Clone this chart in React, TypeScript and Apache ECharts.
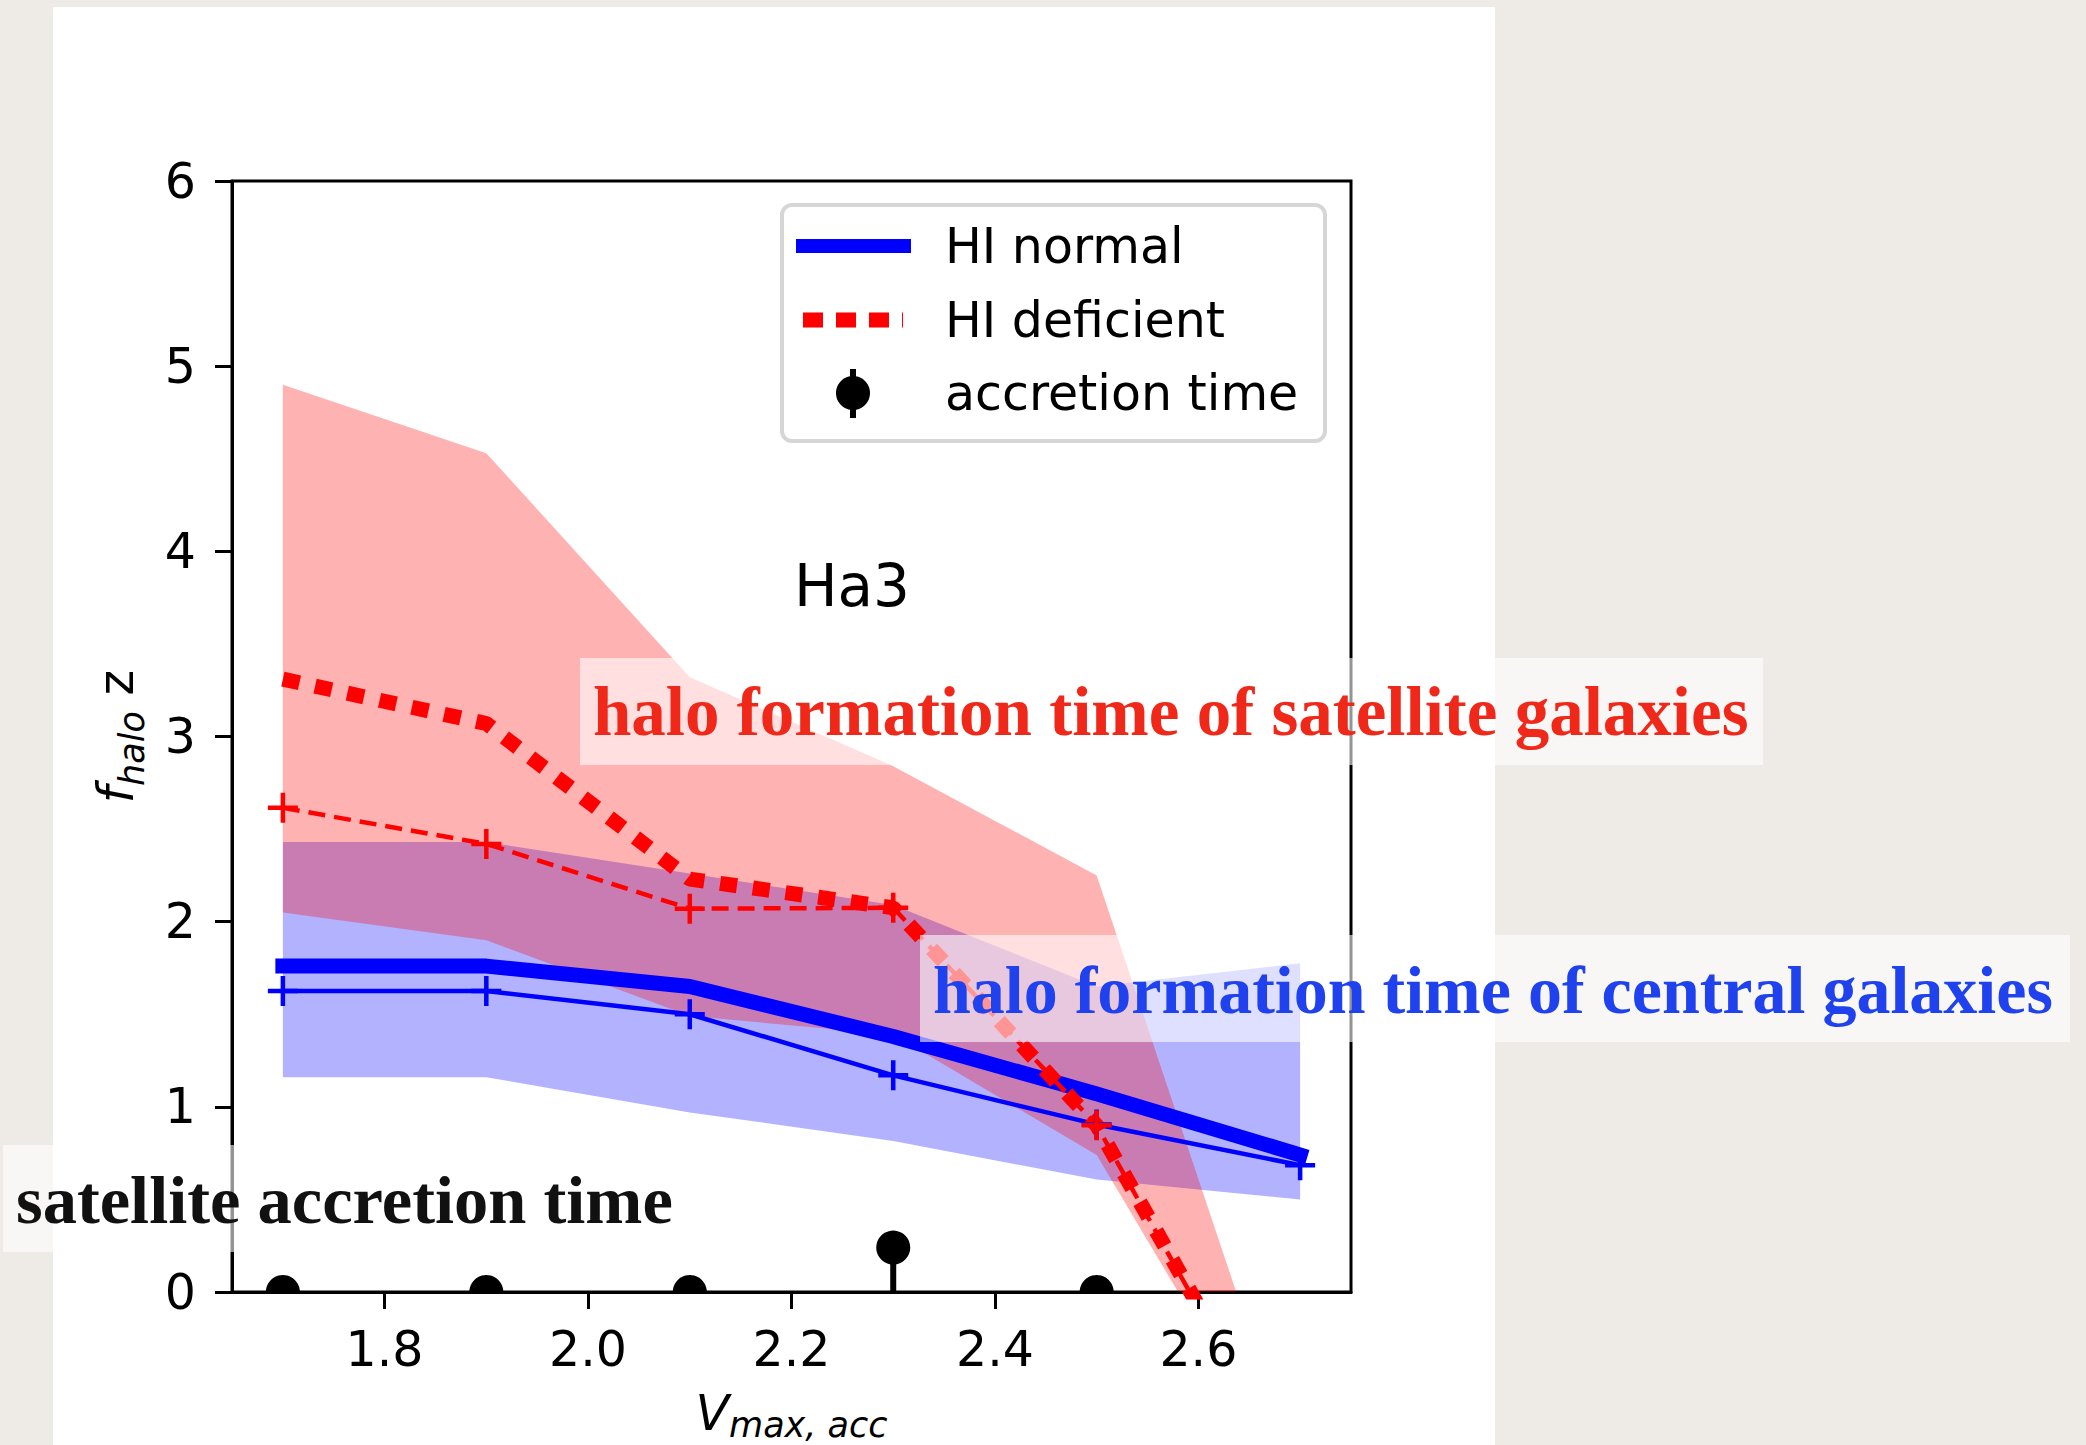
import React, { useEffect, useRef } from "react";
import * as echarts from "echarts";

// ---------------- data ----------------
const X_VALUES = [1.7, 1.9, 2.1, 2.3, 2.5, 2.7];

// HI normal (blue)
const NORMAL_MEAN = [1.76, 1.76, 1.65, 1.38, 1.07, 0.74];
const NORMAL_MEDIAN = [1.625, 1.625, 1.5, 1.17, 0.905, 0.685];
const NORMAL_LOW = [1.16, 1.16, 0.97, 0.815, 0.607, 0.5];
const NORMAL_HIGH = [2.43, 2.43, 2.26, 2.09, 1.65, 1.775];

// HI deficient (red)
const DEFICIENT_MEAN = [3.31, 3.07, 2.23, 2.075, 0.9, -1.05];
const DEFICIENT_MEDIAN = [2.615, 2.42, 2.07, 2.075, 0.9, -1.07];
const DEFICIENT_LOW = [2.05, 1.9, 1.49, 1.39, 0.74, -1.11];
const DEFICIENT_HIGH = [4.9, 4.53, 3.32, 2.84, 2.25, -1.03];

// accretion time
const ACC_X = [1.7, 1.9, 2.1, 2.3, 2.5];
const ACC_Y = [0, 0, 0, 0.24, 0];
const ACC_ERR_LOW = [0, 0, 0, 0.24, 0];

const X_TICKS = [1.8, 2.0, 2.2, 2.4, 2.6];
const Y_MIN = 0;
const Y_MAX = 6;
const X_MIN = 1.65;
const X_MAX = 2.75;

const LEGEND_LABELS = ["HI normal", "HI deficient", "accretion time"];
const PANEL_LABEL = "Ha3";
const NOTE_SAT = "halo formation time of satellite galaxies";
const NOTE_CEN = "halo formation time of central galaxies";
const NOTE_ACC = "satellite accretion time";

// ---------------- styling ----------------
const SANS = '"DejaVu Sans"';
const SERIF = '"Liberation Serif"';
const PLUS =
  "path://M12.75,0H17.25V12.75H30V17.25H17.25V30H12.75V17.25H0V12.75H12.75Z";

function pairs(ys: number[]) {
  return X_VALUES.map((x, i) => [x, ys[i]]);
}

function bandSeries(low: number[], high: number[], color: string) {
  return {
    type: "custom",
    clip: true,
    silent: true,
    data: [[X_VALUES[0], low[0]]],
    renderItem: (_params: any, api: any) => {
      const pts: number[][] = [];
      X_VALUES.forEach((x, i) => pts.push(api.coord([x, high[i]])));
      for (let i = X_VALUES.length - 1; i >= 0; i--) {
        pts.push(api.coord([X_VALUES[i], low[i]]));
      }
      return {
        type: "polygon",
        shape: { points: pts },
        style: { fill: color, stroke: null },
      };
    },
  };
}

function txt(
  text: string,
  x: number,
  y: number,
  font: string,
  fill: string,
  z = 60,
  align = "left"
) {
  return {
    type: "text",
    x,
    y,
    z,
    style: {
      text,
      font,
      fill,
      textAlign: align,
      align,
      textVerticalAlign: "middle",
      verticalAlign: "middle",
    },
  };
}

export default function App() {
  const ref = useRef<HTMLDivElement>(null);

  useEffect(() => {
    document.body.style.margin = "0";
    if (!ref.current) return;
    const chart = echarts.init(ref.current, undefined, { renderer: "svg" });

    const annotationBox = (x: number, y: number, w: number, h: number) => ({
      type: "rect",
      z: 100,
      shape: { x, y, width: w, height: h },
      style: { fill: "rgba(255,255,255,0.58)" },
    });

    const option: any = {
      animation: false,
      backgroundColor: "#eeebe6",
      grid: {
        left: 232,
        top: 181,
        width: 1119,
        height: 1111,
        outerBoundsMode: "none",
        containLabel: false,
        show: true,
        borderColor: "#000",
        borderWidth: 3,
        backgroundColor: "#ffffff",
      },
      xAxis: {
        type: "value",
        min: X_MIN,
        max: X_MAX,
        splitLine: { show: false },
        axisLine: { show: true, lineStyle: { color: "#000", width: 3 } },
        axisTick: {
          show: true,
          length: 17,
          lineStyle: { color: "#000", width: 3 },
          customValues: X_TICKS,
        },
        axisLabel: {
          customValues: X_TICKS,
          formatter: (v: number) => v.toFixed(1),
          fontSize: 49,
          fontFamily: SANS,
          color: "#000",
          margin: 33,
        },
        name: "{v|V}{s|max, acc}",
        nameLocation: "middle",
        nameGap: 97,
        nameTextStyle: {
          rich: {
            v: {
              fontSize: 49,
              lineHeight: 50,
              fontStyle: "italic",
              fontFamily: SANS,
              color: "#000",
              verticalAlign: "top",
            },
            s: {
              fontSize: 35,
              lineHeight: 35,
              fontStyle: "italic",
              fontFamily: SANS,
              color: "#000",
              verticalAlign: "top",
              padding: [18, 0, 0, 0],
            },
          },
        },
      },
      yAxis: {
        type: "value",
        min: Y_MIN,
        max: Y_MAX,
        interval: 1,
        splitLine: { show: false },
        axisLine: { show: true, lineStyle: { color: "#000", width: 3 } },
        axisTick: {
          show: true,
          length: 17,
          lineStyle: { color: "#000", width: 3 },
        },
        axisLabel: {
          fontSize: 49,
          fontFamily: SANS,
          color: "#000",
          margin: 36,
        },
        name: "{f|f}{s|halo}{n| z}",
        nameLocation: "middle",
        nameRotate: 90,
        nameGap: 84,
        nameTextStyle: {
          rich: {
            f: {
              fontSize: 49,
              lineHeight: 56,
              fontStyle: "italic",
              fontFamily: SANS,
              color: "#000",
              verticalAlign: "top",
            },
            s: {
              fontSize: 35,
              lineHeight: 35,
              fontStyle: "italic",
              fontFamily: SANS,
              color: "#000",
              verticalAlign: "top",
              padding: [22, 0, 0, 0],
            },
            n: {
              fontSize: 49,
              lineHeight: 56,
              fontFamily: SANS,
              color: "#000",
              verticalAlign: "top",
            },
          },
        },
      },
      series: [
        bandSeries(NORMAL_LOW, NORMAL_HIGH, "rgba(0,0,255,0.3)"),
        bandSeries(DEFICIENT_LOW, DEFICIENT_HIGH, "rgba(255,0,0,0.3)"),
        {
          type: "line",
          name: LEGEND_LABELS[0],
          data: pairs(NORMAL_MEAN),
          symbol: "none",
          clip: true,
          lineStyle: { color: "#0000ff", width: 15, cap: "square", join: "round" },
        },
        {
          type: "line",
          name: "HI normal median",
          data: pairs(NORMAL_MEDIAN),
          symbol: PLUS,
          symbolSize: 30,
          showSymbol: true,
          showAllSymbol: true,
          clip: true,
          itemStyle: { color: "#0000ff", borderWidth: 0 },
          lineStyle: { color: "#0000ff", width: 4.5, join: "round" },
        },
        {
          type: "line",
          name: LEGEND_LABELS[1],
          data: pairs(DEFICIENT_MEAN),
          symbol: "none",
          clip: true,
          lineStyle: { color: "#ff0000", width: 15, type: [17, 16], cap: "butt" },
        },
        {
          type: "line",
          name: "HI deficient median",
          data: pairs(DEFICIENT_MEDIAN),
          symbol: PLUS,
          symbolSize: 30,
          showSymbol: true,
          showAllSymbol: true,
          clip: true,
          itemStyle: { color: "#ff0000", borderWidth: 0 },
          lineStyle: { color: "#ff0000", width: 4.5, type: [17, 9] },
        },
        {
          type: "custom",
          name: LEGEND_LABELS[2],
          clip: true,
          data: ACC_X.map((x, i) => [x, ACC_Y[i], ACC_ERR_LOW[i]]),
          renderItem: (_params: any, api: any) => {
            const x = api.value(0);
            const y = api.value(1);
            const e = api.value(2);
            const c = api.coord([x, y]);
            const children: any[] = [];
            if (e > 0) {
              const b = api.coord([x, y - e]);
              children.push({
                type: "line",
                shape: { x1: c[0], y1: c[1], x2: b[0], y2: b[1] },
                style: { stroke: "#000", lineWidth: 6 },
              });
            }
            children.push({
              type: "circle",
              shape: { cx: c[0], cy: c[1], r: 17 },
              style: { fill: "#000" },
            });
            return { type: "group", children };
          },
        },
      ],
      graphic: {
        elements: [
          // white slide panel
          {
            type: "rect",
            z: -10,
            shape: { x: 53, y: 7, width: 1442, height: 1445 },
            style: { fill: "#ffffff" },
          },
          // panel label
          txt(PANEL_LABEL, 852, 586, `58px ${SANS}`, "#000", 40, "center"),
          // legend
          {
            type: "rect",
            z: 50,
            shape: { x: 782, y: 205, width: 543, height: 236, r: 10 },
            style: { fill: "rgba(255,255,255,0.8)", stroke: "#d6d6d6", lineWidth: 4 },
          },
          {
            type: "line",
            z: 51,
            shape: { x1: 796, y1: 246, x2: 911, y2: 246 },
            style: { stroke: "#0000ff", lineWidth: 14 },
          },
          txt(LEGEND_LABELS[0], 945, 246, `49px ${SANS}`, "#000", 51),
          {
            type: "line",
            z: 51,
            shape: { x1: 803, y1: 320, x2: 903, y2: 320 },
            style: { stroke: "#ff0000", lineWidth: 15, lineDash: [20, 13] },
          },
          txt(LEGEND_LABELS[1], 945, 320, `49px ${SANS}`, "#000", 51),
          {
            type: "line",
            z: 51,
            shape: { x1: 853, y1: 369, x2: 853, y2: 418 },
            style: { stroke: "#000", lineWidth: 6 },
          },
          {
            type: "circle",
            z: 52,
            shape: { cx: 853, cy: 393, r: 17 },
            style: { fill: "#000" },
          },
          txt(LEGEND_LABELS[2], 945, 393, `49px ${SANS}`, "#000", 51),
          // annotation boxes
          annotationBox(580, 658, 1183, 107),
          txt(NOTE_SAT, 593, 712, `bold 69px ${SERIF}`, "#f0281a", 101),
          annotationBox(920, 935, 1150, 107),
          txt(NOTE_CEN, 933, 990, `bold 68px ${SERIF}`, "#1f42ee", 101),
          annotationBox(3, 1145, 682, 107),
          txt(NOTE_ACC, 16, 1200, `bold 68.5px ${SERIF}`, "#111111", 101),
        ],
      },
    };

    chart.setOption(option);
    return () => chart.dispose();
  }, []);

  return <div ref={ref} style={{ width: 2086, height: 1445 }} />;
}
